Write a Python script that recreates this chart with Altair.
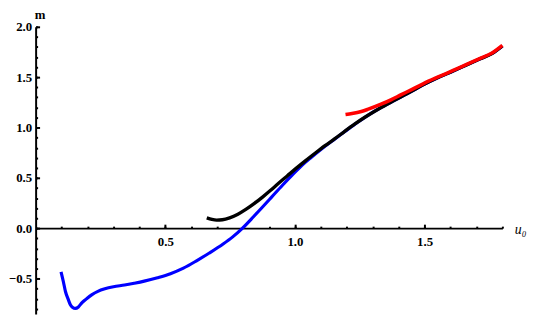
import altair as alt
import pandas as pd

# ---- data ----
blue_u = [0.098, 0.107, 0.115, 0.125, 0.134, 0.143, 0.153, 0.165, 0.178, 0.196,
          0.216, 0.24, 0.267, 0.30, 0.343, 0.38, 0.419, 0.47, 0.52, 0.57,
          0.622, 0.67, 0.723, 0.76, 0.795, 0.84, 0.875, 0.91, 0.951, 0.99,
          1.027, 1.06, 1.1, 1.154, 1.192, 1.23, 1.268, 1.306, 1.344, 1.38,
          1.42, 1.46, 1.5, 1.55, 1.61, 1.66, 1.712, 1.76, 1.8]
blue_m = [-0.432, -0.53, -0.627, -0.70, -0.758, -0.785, -0.795, -0.78, -0.74, -0.70,
          -0.66, -0.625, -0.60, -0.58, -0.563, -0.545, -0.524, -0.49, -0.45, -0.395,
          -0.32, -0.245, -0.156, -0.085, -0.005, 0.115, 0.212, 0.31, 0.425, 0.53,
          0.625, 0.698, 0.782, 0.887, 0.96, 1.032, 1.098, 1.16, 1.215, 1.265,
          1.32, 1.375, 1.432, 1.495, 1.562, 1.62, 1.68, 1.735, 1.81]

black_u = [0.66, 0.68, 0.698, 0.72, 0.748, 0.78, 0.812, 0.845, 0.875, 0.905,
           0.938, 0.97, 1.002, 1.04, 1.08, 1.116, 1.154, 1.192, 1.23, 1.268,
           1.306, 1.344, 1.38, 1.42, 1.46, 1.5, 1.55, 1.61, 1.66, 1.712,
           1.76, 1.8]
black_m = [0.104, 0.088, 0.081, 0.085, 0.104, 0.14, 0.19, 0.25, 0.31, 0.375,
           0.45, 0.52, 0.59, 0.67, 0.75, 0.82, 0.89, 0.963, 1.034, 1.10,
           1.16, 1.215, 1.265, 1.32, 1.375, 1.432, 1.495, 1.562, 1.62, 1.68,
           1.735, 1.81]

red_u = [1.195, 1.22, 1.256, 1.28, 1.332, 1.37, 1.408, 1.452, 1.496, 1.55,
         1.61, 1.66, 1.712, 1.76, 1.8]
red_m = [1.13, 1.14, 1.16, 1.18, 1.232, 1.275, 1.324, 1.38, 1.437, 1.50,
         1.567, 1.625, 1.685, 1.74, 1.815]

x_minor = [0.1, 0.2, 0.3, 0.4, 0.5, 0.6, 0.7, 0.8, 0.9, 1.0,
           1.1, 1.2, 1.3, 1.4, 1.5, 1.6, 1.7, 1.8]
x_major = [0.5, 1.0, 1.5]
y_minor = [-0.8, -0.7, -0.6, -0.5, -0.4, -0.3, -0.2, -0.1, 0.0, 0.1, 0.2, 0.3, 0.4,
           0.5, 0.6, 0.7, 0.8, 0.9, 1.0, 1.1, 1.2, 1.3, 1.4, 1.5, 1.6, 1.7,
           1.8, 1.9, 2.0]
y_major = [-0.5, 0.0, 0.5, 1.0, 1.5, 2.0]

XDOM = [0, 1.8]
YDOM = [-0.85, 2.0]
W, H = 473, 291
Y0 = round(H * (YDOM[1] - 0) / (YDOM[1] - YDOM[0]))  # pixel of m=0 from top

FONT = "Liberation Serif"

blue = pd.DataFrame({"u": blue_u, "m": blue_m})
black = pd.DataFrame({"u": black_u, "m": black_m})
red = pd.DataFrame({"u": red_u, "m": red_m})

xs = alt.Scale(domain=XDOM, nice=False, zero=False)
ys = alt.Scale(domain=YDOM, nice=False, zero=False)

# layer 1: blue, minor ticks + axis lines
l1 = alt.Chart(blue).mark_line(color="#0000ff", strokeWidth=3.2, interpolate="monotone").encode(
    x=alt.X("u:Q", scale=xs, axis=alt.Axis(
        orient="top", offset=-Y0, values=x_minor, tickSize=2, tickWidth=2,
        tickColor="black", labels=False, domain=True, domainWidth=2,
        domainColor="black", grid=False, title=None)),
    y=alt.Y("m:Q", scale=ys, axis=alt.Axis(
        orient="right", offset=-W, values=y_minor, tickSize=2, tickWidth=2,
        tickColor="black", labels=False, domain=True, domainWidth=2,
        domainColor="black", grid=False, title=None)),
    order="u:Q",
)

# layer 2: black, major ticks
l2 = alt.Chart(black).mark_line(color="black", strokeWidth=3.4, interpolate="monotone").encode(
    x=alt.X("u:Q", scale=xs, axis=alt.Axis(
        orient="top", offset=-Y0, values=x_major, tickSize=4, tickWidth=2,
        tickColor="black", labels=False, domain=False, grid=False, title=None)),
    y=alt.Y("m:Q", scale=ys, axis=alt.Axis(
        orient="right", offset=-W, values=y_major, tickSize=4, tickWidth=2,
        tickColor="black", labels=False, domain=False, grid=False, title=None)),
    order="u:Q",
)

# layer 3: red, labels and titles
l3 = alt.Chart(red).mark_line(color="#ff0000", strokeWidth=3.6, interpolate="monotone").encode(
    x=alt.X("u:Q", scale=xs, axis=alt.Axis(
        orient="bottom", offset=-(H - Y0), values=x_major, ticks=False, tickSize=0,
        labels=True, format=".1f", labelFont=FONT, labelFontWeight="bold",
        labelFontSize=13, labelColor="black", labelPadding=8, domain=False,
        grid=False, title="u₀", titleFont=FONT, titleFontStyle="italic",
        titleFontWeight="normal", titleFontSize=14, titleColor="black",
        titleX=W + 12, titleY=1, titleAlign="left", titleBaseline="middle",
        labelFlush=False)),
    y=alt.Y("m:Q", scale=ys, axis=alt.Axis(
        orient="left", values=y_major, ticks=False, tickSize=0,
        labels=True, format=".1f", labelFont=FONT, labelFontWeight="bold",
        labelFontSize=13, labelColor="black", labelPadding=4, domain=False,
        grid=False, title="m", titleFont=FONT, titleFontWeight="bold",
        titleFontSize=13, titleColor="black", titleAngle=0, titleX=4,
        titleY=-8, titleAlign="center", titleBaseline="alphabetic",
        labelFlush=False)),
    order="u:Q",
)

chart = alt.layer(l1, l2, l3).resolve_axis(x="independent", y="independent").properties(
    width=W, height=H,
    autosize=alt.AutoSizeParams(type="none"),
    padding={"left": 28, "top": 17, "right": 30, "bottom": 2},
    background="white",
).configure_view(stroke=None)

chart.save("out.html", embed_options={"renderer": "svg", "actions": False})
